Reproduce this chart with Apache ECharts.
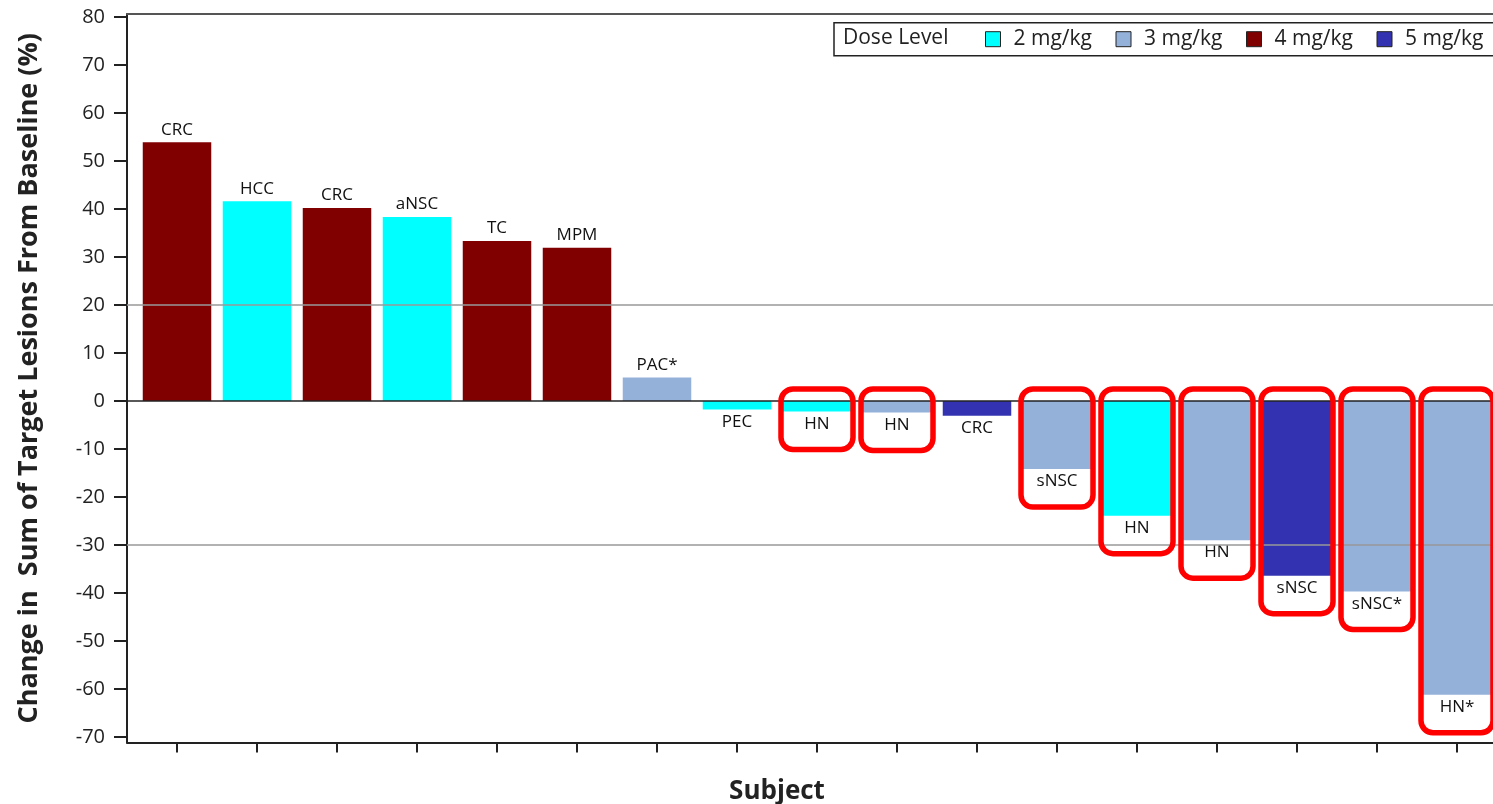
<!DOCTYPE html>
<html>
<head>
<meta charset="utf-8">
<script src="https://cdn.jsdelivr.net/npm/echarts@6/dist/echarts.min.js"></script>
<style>
html,body{margin:0;padding:0;background:#fff;}
#chart{width:1493px;height:804px;}
</style>
</head>
<body>
<div id="chart"></div>
<script>
// ---- data ----
const categories = ['CRC','HCC','CRC','aNSC','TC','MPM','PAC*','PEC','HN','HN','CRC','sNSC','HN','HN','sNSC','sNSC*','HN*'];
const changes = [53.9, 41.6, 40.2, 38.3, 33.3, 31.9, 4.9, -1.8, -2.2, -2.4, -3.1, -14.2, -23.9, -29.0, -36.4, -39.7, -61.2];
const doseLevels = [4, 2, 4, 2, 4, 4, 3, 2, 2, 3, 5, 3, 2, 3, 5, 3, 3];
const doseValues = [2, 3, 4, 5];
const doseNames = ['2 mg/kg', '3 mg/kg', '4 mg/kg', '5 mg/kg'];
const doseColors = ['#00FFFF', '#93B1D9', '#800000', '#3333B2'];
const highlighted = [8, 9, 11, 12, 13, 14, 15, 16];
const yTicks = [-70, -60, -50, -40, -30, -20, -10, 0, 10, 20, 30, 40, 50, 60, 70, 80];
const thresholds = [20, -30];
const xTicks = categories.map((c, i) => i);

const FONT = 'Open Sans';
const chart = echarts.init(document.getElementById('chart'));

const barData = changes.map((v, i) => ({
  value: [i, v],
  itemStyle: { color: doseColors[doseValues.indexOf(doseLevels[i])] },
  label: { position: v >= 0 ? 'top' : 'bottom' }
}));

const option = {
  animation: false,
  backgroundColor: '#fff',
  textStyle: { fontFamily: FONT },
  grid: { left: 127, width: 1366, top: 14, height: 728.5, containLabel: false, outerBoundsMode: 'none' },
  xAxis: [{
    type: 'value', min: -0.625, max: 16.45,
    name: 'Subject', nameLocation: 'middle', nameGap: 36,
    nameTextStyle: { fontFamily: FONT, fontSize: 26, fontWeight: 'bold', color: '#222', padding: [0, 66, 0, 0] },
    axisLine: { show: true, onZero: false, lineStyle: { color: '#222', width: 2 } },
    axisTick: { show: true, customValues: xTicks, length: 10, lineStyle: { color: '#222', width: 2 } },
    axisLabel: { show: false },
    splitLine: { show: false }
  }, {
    type: 'value', position: 'top', min: -0.625, max: 16.45,
    axisLine: { show: true, onZero: false, lineStyle: { color: '#555', width: 2 } },
    axisTick: { show: false }, axisLabel: { show: false }, splitLine: { show: false }
  }],
  yAxis: {
    type: 'value', min: -71.15, max: 80.6,
    name: 'Change in  Sum of Target Lesions From Baseline (%)',
    nameLocation: 'middle', nameGap: 84,
    nameTextStyle: { fontFamily: FONT, fontSize: 27, fontWeight: 'bold', color: '#222' },
    axisLine: { show: true, onZero: false, lineStyle: { color: '#222', width: 2 } },
    axisTick: { show: true, customValues: yTicks, length: 13, lineStyle: { color: '#222', width: 2 } },
    axisLabel: { customValues: yTicks, fontFamily: FONT, fontSize: 20, color: '#222', margin: 22 },
    splitLine: { show: false }
  },
  legend: {
    left: 834, top: 22.7, width: 520,
    padding: [6, 9, 6, 151],
    orient: 'horizontal',
    itemWidth: 15, itemHeight: 15, itemGap: 22,
    icon: 'rect',
    selectedMode: false,
    borderColor: '#222', borderWidth: 1.5,
    itemStyle: { borderColor: '#222', borderWidth: 1, opacity: 1 },
    textStyle: { fontFamily: FONT, fontSize: 21, color: '#222', width: 80, lineHeight: 20, padding: [0, 0, 0, 8] },
    data: doseNames
  },
  graphic: [{
    type: 'text', left: 843, top: 27.7,
    style: { text: 'Dose Level', font: '21px "Open Sans"', fill: '#222' }
  }],
  series: [
    {
      type: 'bar', name: 'Change',
      data: barData,
      barWidth: 68.5,
      z: 2,
      label: {
        show: true, distance: 4, fontFamily: FONT, fontSize: 17, color: '#111',
        formatter: p => categories[p.dataIndex]
      },
      markLine: {
        silent: true, symbol: 'none', label: { show: false },
        data: [
          ...thresholds.map(t => ({ yAxis: t, lineStyle: { color: '#999', width: 1.5, type: 'solid' } })),
          { yAxis: 0, lineStyle: { color: '#222', width: 1.5, type: 'solid' } }
        ]
      }
    },
    ...doseNames.map((n, k) => ({
      type: 'scatter', name: n, data: [], itemStyle: { color: doseColors[k], opacity: 1 }
    })),
    {
      type: 'custom', name: 'highlight', z: 10, clip: false, silent: true,
      data: highlighted.map(i => [i, changes[i]]),
      renderItem: function (params, api) {
        const i = api.value(0), v = api.value(1);
        const c0 = api.coord([i, 0]);
        const c1 = api.coord([i, v]);
        const w = 72;
        const top = c0[1] - 12;
        const bottom = c1[1] + 38;
        return {
          type: 'rect',
          shape: { x: c0[0] - w / 2, y: top, width: w, height: bottom - top, r: 12 },
          style: { fill: 'none', stroke: '#FF0000', lineWidth: 5.5 }
        };
      }
    }
  ]
};
chart.setOption(option);
</script>
</body>
</html>
